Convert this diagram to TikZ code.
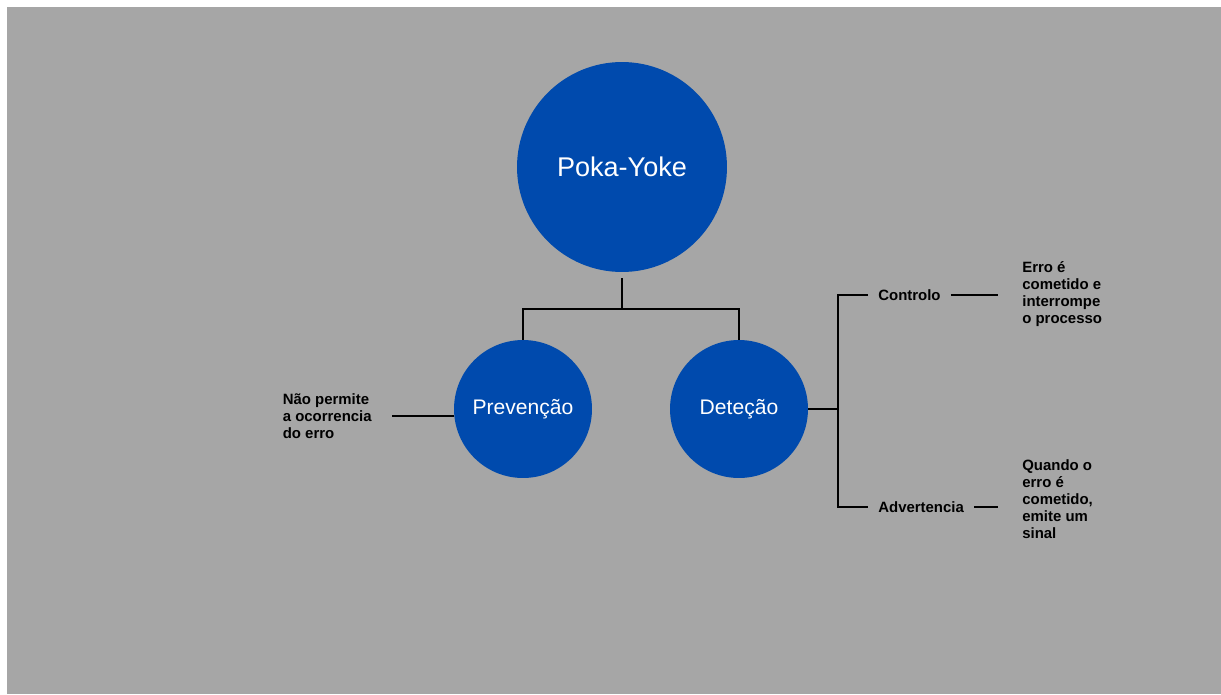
\documentclass[tikz,border=0pt]{standalone}
\usepackage{fontspec}
\setmainfont{Liberation Sans}
\usetikzlibrary{positioning}
\definecolor{bggray}{HTML}{A6A6A6}
\definecolor{pkblue}{HTML}{004AAD}
\tikzset{
  bigcirc/.style={circle, fill=pkblue, text=white, minimum size=4.2cm, inner sep=0pt, font=\fontsize{15.4}{18}\selectfont},
  smallcirc/.style={circle, fill=pkblue, text=white, minimum size=2.76cm, inner sep=0pt, font=\fontsize{12}{14}\selectfont},
  branch/.style={inner xsep=0.2cm, inner ysep=0pt, font=\bfseries\fontsize{8.5}{9.6}\selectfont},
  note/.style={align=left, inner xsep=0pt, inner ysep=0pt, font=\bfseries\fontsize{8.5}{9.6}\selectfont},
  wire/.style={line width=1.1pt, black}
}
\begin{document}
\begin{tikzpicture}[x=0.02cm, y=-0.02cm]
\useasboundingbox (0,0) rectangle (1221,694);
\fill[bggray] (7,7) rectangle (1221,694);
\node[bigcirc] (poka) at (622,167) {Poka-Yoke};
\node[smallcirc] (prev) at (523,409) {Prevenção};
\node[smallcirc] (det) at (739,409) {Deteção};
\node[branch, anchor=west] (ctrl) at (868,295) {Controlo};
\node[branch, anchor=west] (adv) at (868,507) {Advertencia};
\node[note, anchor=west] (txtctrl) at (1022,294) {Erro é\\cometido e\\interrompe\\o processo};
\node[note, anchor=west] (txtadv) at (1022,499) {Quando o\\erro é\\cometido,\\emite um\\sinal};
\node[note, anchor=east, inner xsep=0.4cm] (txtprev) at (392,416) {Não permite\\a ocorrencia\\do erro};
\coordinate (fork) at (622,309);
\coordinate (brk) at (838,409);
% tree below Poka-Yoke
\draw[wire] ([yshift=-0.12cm]poka.south) -- (fork) -| (prev.north);
\draw[wire] (fork) -| (det.north);
% branches of Deteção
\draw[wire] (det.east) -- (brk);
\draw[wire] (ctrl.west) -| (brk) |- (adv.west);
\draw[wire] (ctrl.east) -- ([xshift=-0.48cm]ctrl.east -| txtctrl.west);
\draw[wire] (adv.east) -- ([xshift=-0.48cm]adv.east -| txtadv.west);
\draw[wire] (txtprev.east) -- (txtprev.east -| prev.west);
\end{tikzpicture}
\end{document}
